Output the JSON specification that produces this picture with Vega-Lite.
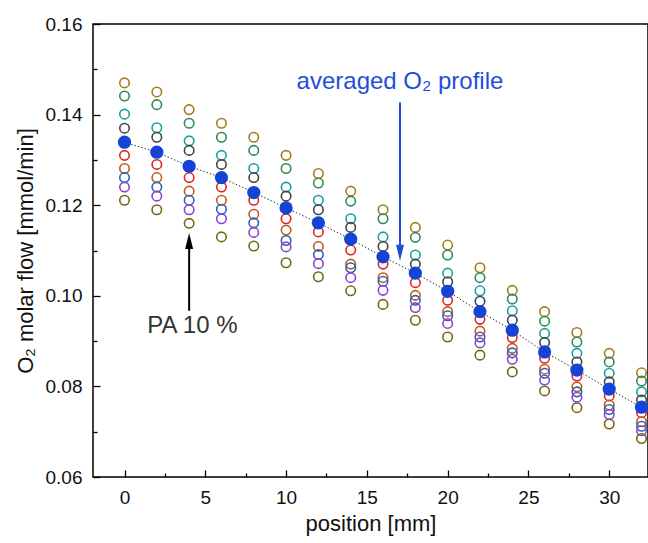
{
  "$schema": "https://vega.github.io/schema/vega-lite/v6.json",
  "width": 555,
  "height": 453,
  "autosize": {"type": "none"},
  "padding": {"left": 93, "top": 24, "right": 0, "bottom": 66},
  "background": "white",
  "config": {
    "view": {"stroke": "#000", "strokeWidth": 1.5},
    "font": "Liberation Sans",
    "axis": {"grid": false, "domain": false, "tickColor": "#000", "tickWidth": 1.3, "labelColor": "#111", "labelFont": "Liberation Sans", "labelFontSize": 19, "titleFont": "Liberation Sans", "titleFontSize": 22, "titleFontWeight": "normal", "titleColor": "#111"}
  },
  "datasets": {
    "pts": [
      {"x":0,"s":"s1","v":0.1470},{"x":0,"s":"s2","v":0.1441},{"x":0,"s":"s3","v":0.1401},{"x":0,"s":"s4","v":0.1370},{"x":0,"s":"s5","v":0.1310},{"x":0,"s":"s6","v":0.1281},{"x":0,"s":"s7","v":0.1261},{"x":0,"s":"s8","v":0.1240},{"x":0,"s":"s9","v":0.1211},
      {"x":2,"s":"s1","v":0.1450},{"x":2,"s":"s2","v":0.1422},{"x":2,"s":"s3","v":0.1371},{"x":2,"s":"s4","v":0.1350},{"x":2,"s":"s5","v":0.1290},{"x":2,"s":"s6","v":0.1261},{"x":2,"s":"s7","v":0.1240},{"x":2,"s":"s8","v":0.1220},{"x":2,"s":"s9","v":0.1190},
      {"x":4,"s":"s1","v":0.1411},{"x":4,"s":"s2","v":0.1381},{"x":4,"s":"s3","v":0.1342},{"x":4,"s":"s4","v":0.1321},{"x":4,"s":"s5","v":0.1261},{"x":4,"s":"s6","v":0.1231},{"x":4,"s":"s7","v":0.1211},{"x":4,"s":"s8","v":0.1190},{"x":4,"s":"s9","v":0.1160},
      {"x":6,"s":"s1","v":0.1381},{"x":6,"s":"s2","v":0.1350},{"x":6,"s":"s3","v":0.1310},{"x":6,"s":"s4","v":0.1290},{"x":6,"s":"s5","v":0.1240},{"x":6,"s":"s6","v":0.1211},{"x":6,"s":"s7","v":0.1191},{"x":6,"s":"s8","v":0.1170},{"x":6,"s":"s9","v":0.1130},
      {"x":8,"s":"s1","v":0.1350},{"x":8,"s":"s2","v":0.1321},{"x":8,"s":"s3","v":0.1281},{"x":8,"s":"s4","v":0.1261},{"x":8,"s":"s5","v":0.1211},{"x":8,"s":"s6","v":0.1180},{"x":8,"s":"s7","v":0.1161},{"x":8,"s":"s8","v":0.1140},{"x":8,"s":"s9","v":0.1110},
      {"x":10,"s":"s1","v":0.1310},{"x":10,"s":"s2","v":0.1281},{"x":10,"s":"s3","v":0.1240},{"x":10,"s":"s4","v":0.1220},{"x":10,"s":"s5","v":0.1170},{"x":10,"s":"s6","v":0.1145},{"x":10,"s":"s7","v":0.1122},{"x":10,"s":"s8","v":0.1108},{"x":10,"s":"s9","v":0.1073},
      {"x":12,"s":"s1","v":0.1270},{"x":12,"s":"s2","v":0.1249},{"x":12,"s":"s3","v":0.1211},{"x":12,"s":"s4","v":0.1190},{"x":12,"s":"s5","v":0.1141},{"x":12,"s":"s6","v":0.1109},{"x":12,"s":"s7","v":0.1091},{"x":12,"s":"s8","v":0.1071},{"x":12,"s":"s9","v":0.1042},
      {"x":14,"s":"s1","v":0.1231},{"x":14,"s":"s2","v":0.1209},{"x":14,"s":"s3","v":0.1170},{"x":14,"s":"s4","v":0.1151},{"x":14,"s":"s5","v":0.1101},{"x":14,"s":"s6","v":0.1070},{"x":14,"s":"s7","v":0.1062},{"x":14,"s":"s8","v":0.1040},{"x":14,"s":"s9","v":0.1011},
      {"x":16,"s":"s1","v":0.1190},{"x":16,"s":"s2","v":0.1170},{"x":16,"s":"s3","v":0.1130},{"x":16,"s":"s4","v":0.1109},{"x":16,"s":"s5","v":0.1070},{"x":16,"s":"s6","v":0.1040},{"x":16,"s":"s7","v":0.1032},{"x":16,"s":"s8","v":0.1012},{"x":16,"s":"s9","v":0.0981},
      {"x":18,"s":"s1","v":0.1151},{"x":18,"s":"s2","v":0.1129},{"x":18,"s":"s3","v":0.1090},{"x":18,"s":"s4","v":0.1070},{"x":18,"s":"s5","v":0.1029},{"x":18,"s":"s6","v":0.1001},{"x":18,"s":"s7","v":0.0990},{"x":18,"s":"s8","v":0.0974},{"x":18,"s":"s9","v":0.0946},
      {"x":20,"s":"s1","v":0.1112},{"x":20,"s":"s2","v":0.1090},{"x":20,"s":"s3","v":0.1050},{"x":20,"s":"s4","v":0.1031},{"x":20,"s":"s5","v":0.0990},{"x":20,"s":"s6","v":0.0965},{"x":20,"s":"s7","v":0.0956},{"x":20,"s":"s8","v":0.0939},{"x":20,"s":"s9","v":0.0909},
      {"x":22,"s":"s1","v":0.1062},{"x":22,"s":"s2","v":0.1040},{"x":22,"s":"s3","v":0.1011},{"x":22,"s":"s4","v":0.0988},{"x":22,"s":"s5","v":0.0948},{"x":22,"s":"s6","v":0.0922},{"x":22,"s":"s7","v":0.0909},{"x":22,"s":"s8","v":0.0896},{"x":22,"s":"s9","v":0.0869},
      {"x":24,"s":"s1","v":0.1012},{"x":24,"s":"s2","v":0.0993},{"x":24,"s":"s3","v":0.0967},{"x":24,"s":"s4","v":0.0946},{"x":24,"s":"s5","v":0.0908},{"x":24,"s":"s6","v":0.0884},{"x":24,"s":"s7","v":0.0874},{"x":24,"s":"s8","v":0.0860},{"x":24,"s":"s9","v":0.0832},
      {"x":26,"s":"s1","v":0.0965},{"x":26,"s":"s2","v":0.0944},{"x":26,"s":"s3","v":0.0917},{"x":26,"s":"s4","v":0.0897},{"x":26,"s":"s5","v":0.0862},{"x":26,"s":"s6","v":0.0838},{"x":26,"s":"s7","v":0.0829},{"x":26,"s":"s8","v":0.0814},{"x":26,"s":"s9","v":0.0790},
      {"x":28,"s":"s1","v":0.0919},{"x":28,"s":"s2","v":0.0898},{"x":28,"s":"s3","v":0.0873},{"x":28,"s":"s4","v":0.0854},{"x":28,"s":"s5","v":0.0823},{"x":28,"s":"s6","v":0.0799},{"x":28,"s":"s7","v":0.0788},{"x":28,"s":"s8","v":0.0776},{"x":28,"s":"s9","v":0.0753},
      {"x":30,"s":"s1","v":0.0873},{"x":30,"s":"s2","v":0.0854},{"x":30,"s":"s3","v":0.0829},{"x":30,"s":"s4","v":0.0810},{"x":30,"s":"s5","v":0.0779},{"x":30,"s":"s6","v":0.0759},{"x":30,"s":"s7","v":0.0749},{"x":30,"s":"s8","v":0.0738},{"x":30,"s":"s9","v":0.0717},
      {"x":32,"s":"s1","v":0.0830},{"x":32,"s":"s2","v":0.0812},{"x":32,"s":"s3","v":0.0788},{"x":32,"s":"s4","v":0.0770},{"x":32,"s":"s5","v":0.0742},{"x":32,"s":"s6","v":0.0722},{"x":32,"s":"s7","v":0.0712},{"x":32,"s":"s8","v":0.0702},{"x":32,"s":"s9","v":0.0685}
    ],
    "avg": [
      {"x":0,"v":0.1339},{"x":2,"v":0.1317},{"x":4,"v":0.1286},{"x":6,"v":0.1261},{"x":8,"v":0.1228},{"x":10,"v":0.1194},{"x":12,"v":0.1161},{"x":14,"v":0.1125},{"x":16,"v":0.1086},{"x":18,"v":0.1050},{"x":20,"v":0.1010},{"x":22,"v":0.0965},{"x":24,"v":0.0924},{"x":26,"v":0.0876},{"x":28,"v":0.0836},{"x":30,"v":0.0794},{"x":32,"v":0.0754}
    ],
    "arrows": [
      {"x":17.05,"y":0.1427,"y2":0.1098,"c":"#1f4fd8","hy":0.1095,"shape":"M-0.5,-1L0.5,-1L0,1Z"},
      {"x":4.0,"y":0.0967,"y2":0.1118,"c":"#000000","hy":0.1121,"shape":"M-0.5,1L0.5,1L0,-1Z"}
    ],
    "labels": [
      {"x":17.05,"y":0.1471,"t":"averaged O₂ profile","c":"#1f4fd8"},
      {"x":4.2,"y":0.0933,"t":"PA 10 %","c":"#333333"}
    ]
  },
  "layer": [
    {
      "data": {"name": "pts"},
      "mark": {"type": "point", "filled": false, "strokeWidth": 1.6, "size": 90, "opacity": 1},
      "encoding": {
        "x": {"field": "x", "type": "quantitative", "scale": {"domain": [-1.95, 32.4], "nice": false, "zero": false},
              "axis": {"title": "position [mm]", "values": [0,5,10,15,20,25,30], "tickSize": -7, "labelPadding": 18, "titlePadding": 6, "orient": "bottom"}},
        "y": {"field": "v", "type": "quantitative", "scale": {"domain": [0.06, 0.16], "nice": false, "zero": false},
              "axis": {"title": "O₂ molar flow [mmol/min]", "values": [0.06,0.08,0.10,0.12,0.14,0.16], "format": ".2f", "tickSize": -7, "labelPadding": 18, "titlePadding": 8, "orient": "left"}},
        "color": {"field": "s", "type": "nominal", "legend": null,
                  "scale": {"domain": ["s1","s2","s3","s4","s5","s6","s7","s8","s9"],
                            "range": ["#a47c1b","#2f8a5c","#1a9f9f","#444444","#de2525","#c25b18","#2464b8","#8e42d2","#6e6a12"]}}
      }
    },
    {
      "data": {"name": "avg"},
      "mark": {"type": "line", "color": "#333333", "strokeWidth": 1, "strokeDash": [1.5, 2]},
      "encoding": {
        "x": {"field": "x", "type": "quantitative",
              "axis": {"title": null, "labels": false, "values": [2.5,7.5,12.5,17.5,22.5,27.5], "tickSize": -4, "orient": "bottom"}},
        "y": {"field": "v", "type": "quantitative",
              "axis": {"title": null, "labels": false, "values": [0.07,0.09,0.11,0.13,0.15], "tickSize": -4, "orient": "left"}}
      }
    },
    {
      "data": {"name": "avg"},
      "mark": {"type": "circle", "color": "#1443d6", "size": 175, "opacity": 1},
      "encoding": {
        "x": {"field": "x", "type": "quantitative", "axis": null},
        "y": {"field": "v", "type": "quantitative", "axis": null}
      }
    },
    {
      "data": {"name": "arrows"},
      "mark": {"type": "rule", "strokeWidth": 2},
      "encoding": {
        "x": {"field": "x", "type": "quantitative", "axis": null},
        "y": {"field": "y", "type": "quantitative", "axis": null},
        "y2": {"field": "y2"},
        "color": {"field": "c", "type": "nominal", "scale": null}
      }
    },
    {
      "data": {"name": "arrows"},
      "mark": {"type": "point", "filled": true, "size": 256, "opacity": 1, "strokeWidth": 0},
      "encoding": {
        "x": {"field": "x", "type": "quantitative", "axis": null},
        "y": {"field": "hy", "type": "quantitative", "axis": null},
        "shape": {"field": "shape", "type": "nominal", "scale": null},
        "color": {"field": "c", "type": "nominal", "scale": null}
      }
    },
    {
      "data": {"name": "labels"},
      "mark": {"type": "text", "font": "Liberation Sans", "fontSize": 24, "baseline": "middle", "align": "center"},
      "encoding": {
        "x": {"field": "x", "type": "quantitative", "axis": null},
        "y": {"field": "y", "type": "quantitative", "axis": null},
        "text": {"field": "t"},
        "color": {"field": "c", "type": "nominal", "scale": null}
      }
    }
  ],
  "resolve": {"axis": {"x": "independent", "y": "independent"}}
}
